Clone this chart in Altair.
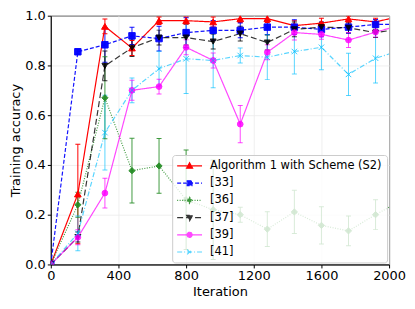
import altair as alt
import pandas as pd

iters = [0, 160, 320, 480, 640, 800, 960, 1120, 1280, 1440, 1600, 1760, 1920, 2080]
names = ["Algorithm 1 with Scheme (S2)", "[33]", "[36]", "[37]", "[39]", "[41]"]

alg_acc = [0.0, 0.283, 0.957, 0.87, 0.98, 0.98, 0.975, 0.988, 0.988, 0.96, 0.97, 0.987, 0.975, 1.0]
alg_err = [0.0, 0.2, 0.03, 0.03, 0.015, 0.015, 0.02, 0.015, 0.015, 0.02, 0.02, 0.012, 0.015, 0.015]
r33_acc = [0.0, 0.855, 0.883, 0.919, 0.908, 0.932, 0.941, 0.941, 0.954, 0.954, 0.945, 0.954, 0.965, 0.965]
r33_err = [0.0, 0.01, 0.07, 0.035, 0.05, 0.06, 0.04, 0.03, 0.03, 0.03, 0.03, 0.025, 0.02, 0.02]
r36_acc = [0.0, 0.24, 0.67, 0.377, 0.396, 0.26, 0.22, 0.2, 0.142, 0.211, 0.157, 0.135, 0.2, 0.26]
r36_err = [0.0, 0.05, 0.165, 0.13, 0.11, 0.2, 0.2, 0.03, 0.07, 0.087, 0.075, 0.06, 0.06, 0.06]
r37_acc = [0.0, 0.11, 0.798, 0.871, 0.912, 0.912, 0.896, 0.928, 0.892, 0.945, 0.954, 0.951, 0.932, 0.948]
r37_err = [0.0, 0.02, 0.06, 0.035, 0.03, 0.03, 0.03, 0.03, 0.03, 0.03, 0.02, 0.02, 0.02, 0.02]
r39_acc = [0.0, 0.109, 0.287, 0.70, 0.715, 0.873, 0.82, 0.564, 0.853, 0.932, 0.925, 0.902, 0.934, 0.964]
r39_err = [0.0, 0.03, 0.06, 0.04, 0.03, 0.03, 0.03, 0.075, 0.03, 0.03, 0.02, 0.03, 0.02, 0.02]
r41_acc = [0.0, 0.125, 0.53, 0.70, 0.787, 0.827, 0.82, 0.84, 0.833, 0.856, 0.873, 0.764, 0.829, 0.863]
r41_err = [0.0, 0.07, 0.15, 0.05, 0.07, 0.14, 0.11, 0.03, 0.09, 0.09, 0.09, 0.085, 0.1, 0.1]

x_ticks = [0, 400, 800, 1200, 1600, 2000]
y_ticks = [0.0, 0.2, 0.4, 0.6, 0.8, 1.0]

colors = ["#ff0000", "#0000ff", "#228b22", "#000000", "#ff00ff", "#00bfff"]
line_op = [1.0, 0.65, 0.8, 1.0, 0.6, 0.7]
dashes = [[1, 0], [4, 2], [1, 1.5], [6, 3], [1, 0], [5, 2, 1, 2]]
widths = [1.2, 1.2, 1.0, 1.3, 1.0, 1.0]
shapes = ["triangle-up", "square", "diamond", "triangle-down", "circle",
          "M-1,-1L1,1M-1,1L1,-1"]
sizes = [45, 30, 40, 45, 35, 36]

accs = [alg_acc, r33_acc, r36_acc, r37_acc, r39_acc, r41_acc]
errs = [alg_err, r33_err, r36_err, r37_err, r39_err, r41_err]

rows = []
for k, (n, a, e) in enumerate(zip(names, accs, errs)):
    for it, v, s in zip(iters, a, e):
        rows.append({"series": n, "order": k, "iter": it, "acc": v,
                     "lo": v - s, "hi": v + s})
df = pd.DataFrame(rows)

# legend symbol paths: line segment plus marker (unit = 5px)
L0, L1, C, m = -1.2, 3.8, 1.3, 0.6
line_part = f"M{L0},0H{L1}"
leg_paths = [
    line_part + f"M{C},{-m*1.05}L{C+m},{m*0.75}L{C-m},{m*0.75}Z",
    line_part + f"M{C-m*0.8},{-m*0.8}H{C+m*0.8}V{m*0.8}H{C-m*0.8}Z",
    line_part + f"M{C},{-m*1.05}L{C+m*0.75},0L{C},{m*1.05}L{C-m*0.75},0Z",
    line_part + f"M{C},{m*1.05}L{C+m},{-m*0.75}L{C-m},{-m*0.75}Z",
    line_part + f"M{C+m*0.85},0A{m*0.85},{m*0.85},0,1,1,{C-m*0.85},0A{m*0.85},{m*0.85},0,1,1,{C+m*0.85},0Z",
    line_part + f"M{C-m*0.8},{-m*0.8}L{C+m*0.8},{m*0.8}M{C-m*0.8},{m*0.8}L{C+m*0.8},{-m*0.8}",
]

legend = alt.Legend(
    title=None, orient="none", legendX=122, legendY=140,
    padding=5, symbolSize=100, labelOffset=21, rowPadding=5.3,
    labelFontSize=11.5, labelFont="DejaVu Sans", labelColor="black", labelLimit=400,
    fillColor="rgba(255,255,255,0.8)", strokeColor="#cccccc", cornerRadius=3,
    symbolStrokeWidth=1.2,
)

x = alt.X("iter:Q", scale=alt.Scale(domain=[0, 2000], nice=False),
          axis=alt.Axis(values=x_ticks, title="Iteration", format="d", labelFlush=False,
                        titlePadding=3))
y = alt.Y("acc:Q", scale=alt.Scale(domain=[0, 1], nice=False),
          axis=alt.Axis(values=y_ticks, title="Training accuracy", format=".1f",
                        titlePadding=2))


def col_sc():
    return alt.Scale(domain=names, range=colors)


def op_sc():
    return alt.Scale(domain=names, range=line_op)


base = alt.Chart(df)

err = base.mark_rule(clip=True, strokeWidth=1).encode(
    x=x, y=alt.Y("lo:Q"), y2="hi:Q",
    color=alt.Color("series:N", scale=col_sc(), legend=None),
    opacity=alt.Opacity("series:N", scale=op_sc(), legend=None),
)
cap_lo = base.mark_tick(clip=True, orient="horizontal", size=5, thickness=1).encode(
    x=x, y=alt.Y("lo:Q"),
    color=alt.Color("series:N", scale=col_sc(), legend=None),
    opacity=alt.Opacity("series:N", scale=op_sc(), legend=None),
)
cap_hi = base.mark_tick(clip=True, orient="horizontal", size=5, thickness=1).encode(
    x=x, y=alt.Y("hi:Q"),
    color=alt.Color("series:N", scale=col_sc(), legend=None),
    opacity=alt.Opacity("series:N", scale=op_sc(), legend=None),
)
lines = base.mark_line(clip=True).encode(
    x=x, y=y, detail="series:N", order="iter:Q",
    color=alt.Color("series:N", scale=col_sc(), legend=None),
    opacity=alt.Opacity("series:N", scale=op_sc(), legend=None),
    strokeDash=alt.StrokeDash("series:N", scale=alt.Scale(domain=names, range=dashes), legend=None),
    strokeWidth=alt.StrokeWidth("series:N", scale=alt.Scale(domain=names, range=widths), legend=None),
)
points = base.mark_point(clip=True, filled=True, strokeWidth=1).encode(
    x=x, y=y,
    color=alt.Color("series:N", scale=col_sc(), legend=None),
    stroke=alt.Stroke("series:N", scale=col_sc(), legend=None),
    opacity=alt.Opacity("series:N", scale=alt.Scale(domain=names, range=[1, 0.8, 1, 1, 0.65, 0.85]), legend=None),
    shape=alt.Shape("series:N", scale=alt.Scale(domain=names, range=shapes), legend=None),
    size=alt.Size("series:N", scale=alt.Scale(domain=names, range=sizes), legend=None),
)
leg_layer = base.transform_filter("false").mark_point(filled=True, strokeWidth=1.2).encode(
    x=x, y=y,
    color=alt.Color("series:N", scale=col_sc(), legend=legend),
    stroke=alt.Stroke("series:N", scale=col_sc(), legend=legend),
    opacity=alt.Opacity("series:N", scale=op_sc(), legend=legend),
    shape=alt.Shape("series:N", scale=alt.Scale(domain=names, range=leg_paths), legend=legend),
    strokeDash=alt.StrokeDash("series:N", scale=alt.Scale(domain=names, range=dashes), legend=legend),
)

chart = alt.layer(err, cap_lo, cap_hi, lines, points, leg_layer).resolve_scale(
    color="independent", stroke="independent", opacity="independent",
    shape="independent", strokeDash="independent", size="independent",
    strokeWidth="independent",
).properties(
    width=340, height=250,
    autosize=alt.AutoSizeParams(type="none"),
    padding={"left": 43, "top": 7, "right": 18, "bottom": 36},
).configure_view(stroke="black", strokeWidth=1).configure_axis(
    labelFont="DejaVu Sans", titleFont="DejaVu Sans", labelFontSize=13, titleFontSize=13,
    titleFontWeight="normal", labelColor="black", titleColor="black",
    domainColor="black", tickColor="black", tickSize=3.5, labelPadding=2,
    gridColor="#ebebeb", gridWidth=0.8,
)

chart.save("out.html", embed_options={"renderer": "svg", "actions": False})
